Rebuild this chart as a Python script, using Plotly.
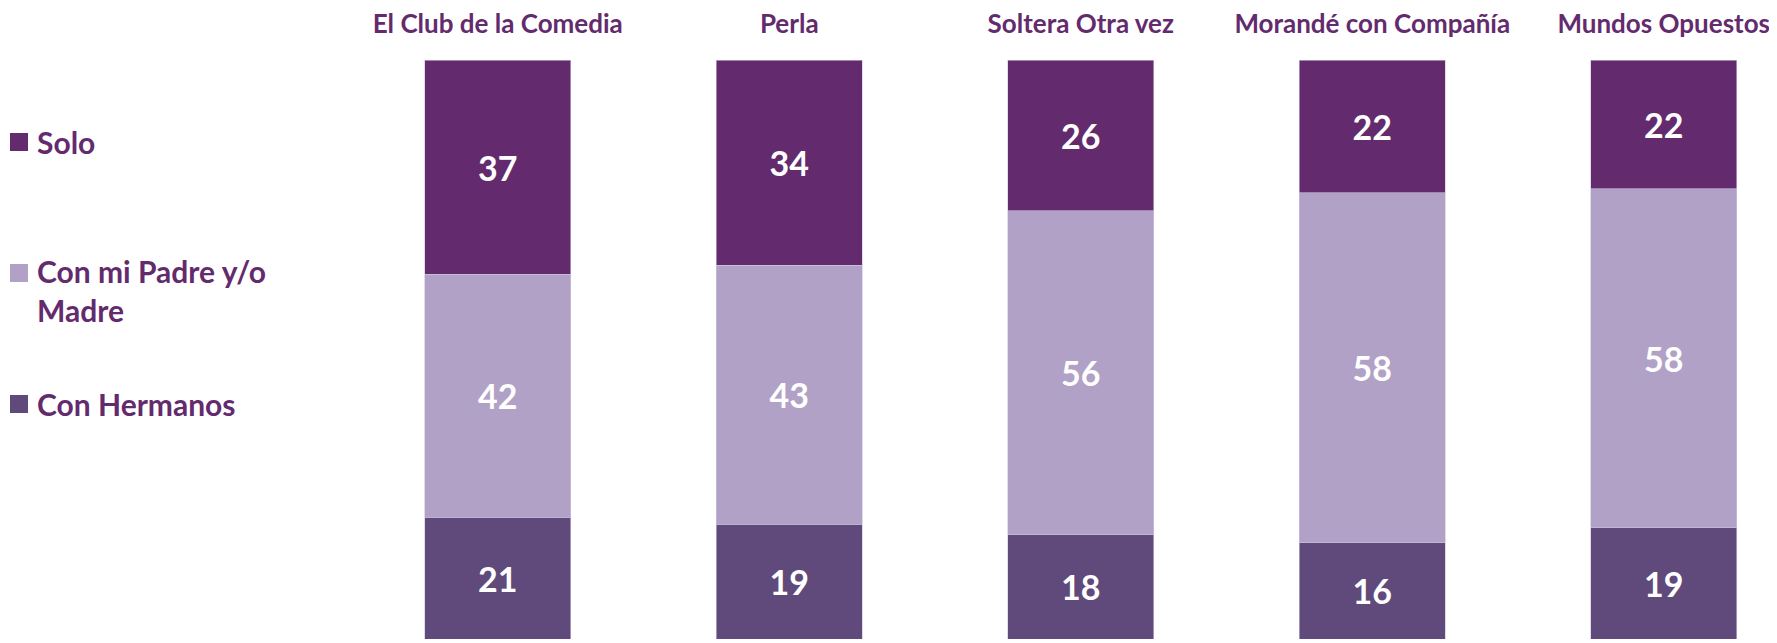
import plotly.graph_objects as go

# ---- data ----
programs = ["El Club de la Comedia", "Perla", "Soltera Otra vez",
            "Morandé con Compañía", "Mundos Opuestos"]
solo = [37, 34, 26, 22, 22]
padre_madre = [42, 43, 56, 58, 58]
hermanos = [21, 19, 18, 16, 19]

series_names = ["Con Hermanos", "Con mi Padre y/o<br>Madre", "Solo"]
series_values = [hermanos, padre_madre, solo]
series_colors = ["#604A7B", "#B2A1C7", "#632B6E"]

TEXT_PURPLE = "#632B6E"
FONT = "Lato"

# page body has an 8px margin; lay the figure out so it fills the window
OFF = 8
W, H = 1777 - OFF, 643 - OFF
ML, MR, MT, MB = 352 - OFF, 0, 60 - OFF, 4
PW, PH = W - ML - MR, H - MT - MB
SPACING = 291.5  # px per category

fig = go.Figure()
for name, vals, col in zip(series_names, series_values, series_colors):
    fig.add_trace(go.Bar(
        x=programs, y=vals, name=name,
        marker=dict(color=col, line=dict(color="#CFC3DD", width=0.6)),
        text=vals, texttemplate="%{text}",
        textposition="inside", insidetextanchor="middle",
        textfont=dict(family=FONT, size=34, color="white", weight="bold"),
        width=0.5, showlegend=False,
    ))

def px_to_paper(px, py):
    # px, py given in window pixels
    px, py = px - OFF, py - OFF
    return (px - ML) / PW, (H - MB - py) / PH

# custom legend (top to bottom: Solo, Padre/Madre, Hermanos)
legend_items = [("Solo", series_colors[2], 142, 142),
                ("Con mi Padre y/o<br>Madre", series_colors[1], 273, 290),
                ("Con Hermanos", series_colors[0], 404, 404)]
shapes = []
annotations = []
for label, col, sq_y, txt_y in legend_items:
    x0, y0 = px_to_paper(10, sq_y + 9)
    x1, y1 = px_to_paper(28, sq_y - 9)
    shapes.append(dict(type="rect", xref="paper", yref="paper",
                       x0=x0, y0=y0, x1=x1, y1=y1,
                       fillcolor=col, line=dict(width=0)))
    tx, ty = px_to_paper(35, txt_y)
    annotations.append(dict(xref="paper", yref="paper", x=tx, y=ty,
                            xanchor="left", yanchor="middle", align="left",
                            text=label, showarrow=False,
                            font=dict(family=FONT, size=30, color=TEXT_PURPLE,
                                      weight="bold")))

fig.update_layout(
    width=W, height=H,
    margin=dict(l=ML, r=MR, t=MT, b=MB, pad=0),
    barmode="stack", barnorm="percent",
    paper_bgcolor="white", plot_bgcolor="white",
    xaxis=dict(side="top", range=[-0.5, -0.5 + PW / SPACING],
               showgrid=False, showline=False, zeroline=False, ticks="",
               ticklabelstandoff=21,
               tickfont=dict(family=FONT, size=26, color=TEXT_PURPLE,
                             weight="bold")),
    yaxis=dict(range=[0, 100], visible=False, showgrid=False),
    shapes=shapes, annotations=annotations,
)

fig.write_html("out.html")
